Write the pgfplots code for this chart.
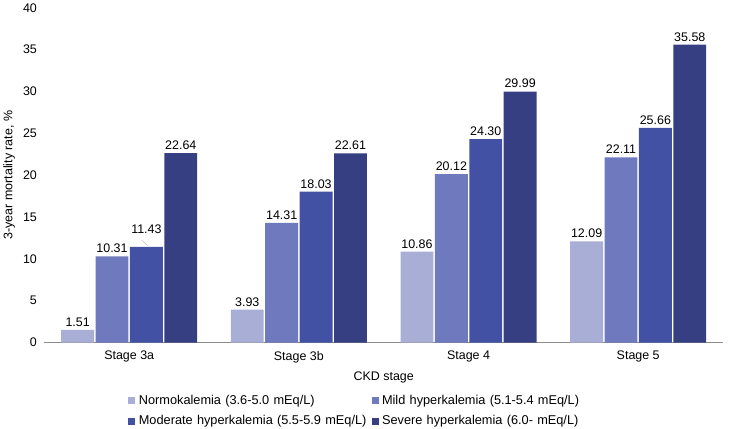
\documentclass[border=0pt]{standalone}
\usepackage{pgfplots}
\pgfplotsset{compat=1.18}
\usepackage{fontspec}
\setmainfont{Liberation Sans}
\definecolor{normo}{HTML}{A9AED6}
\definecolor{mild}{HTML}{6F79BE}
\definecolor{moder}{HTML}{4351A4}
\definecolor{severe}{HTML}{353F82}
\definecolor{axisgray}{HTML}{8C8C8C}

\begin{document}
\begin{tikzpicture}[font=\fontsize{12.5}{15}\selectfont]
  \begin{axis}[
    at={(0,0)}, anchor=south west,
    scale only axis, width=681pt, height=336pt,
    ybar=1.5pt, bar width=33pt,
    xmin=-0.5, xmax=3.5, ymin=0, ymax=40,
    xtick={0,1,2,3},
    xticklabels={Stage 3a,Stage 3b,Stage 4,Stage 5},
    ytick={0,5,...,40},
    axis x line*=bottom, axis y line*=left,
    x axis line style={draw=axisgray, line width=1pt, -},
    y axis line style={draw=none},
    major tick length=0pt,
    /pgf/number format/assume math mode=true,
    tick label style={font=\fontsize{12.5}{15}\selectfont},
    yticklabel style={xshift=-4pt},
    xticklabel style={yshift=-5pt},
    xlabel={CKD stage},
    xlabel style={at={(axis description cs:0.5,0)}, anchor=north, yshift=-26pt},
    ylabel={3-year mortality rate, \%},
    ylabel style={at={(axis description cs:0,0.5)}, anchor=south, yshift=26pt},
    nodes near coords,
    every node near coord/.append style={font=\fontsize{12.5}{15}\selectfont,
      /pgf/number format/fixed, /pgf/number format/fixed zerofill,
      /pgf/number format/precision=2, /pgf/number format/assume math mode=true},
    every axis plot/.append style={draw=none,
      legend image code/.code={\fill[##1,draw=none] (0pt,-3.5pt) rectangle (7pt,3.5pt);}},
    legend columns=2,
    legend style={at={(axis description cs:0.459,-0.15)}, anchor=north,
      draw=none, fill=none, inner sep=0pt, font=\fontsize{12.8}{15}\selectfont,
      row sep=6pt, column sep=1.5pt, cells={anchor=west},
      nodes={inner xsep=2pt},
      /tikz/column 2/.style={nodes={text width=230pt, align=left}},
      /tikz/column 4/.style={nodes={text width=200pt, align=left}}},
  ]
    \addplot[fill=normo] coordinates {(0,1.51) (1,3.93) (2,10.86) (3,12.09)};
    \addlegendentry{Normokalemia (3.6-5.0 mEq/L)}
    \addplot[fill=mild] coordinates {(0,10.31) (1,14.31) (2,20.12) (3,22.11)};
    \addlegendentry{Mild hyperkalemia (5.1-5.4 mEq/L)}
    \addplot[fill=moder, coordinate style/.condition={\coordindex==0}{yshift=10pt}]
      coordinates {(0,11.43) (1,18.03) (2,24.30) (3,25.66)};
    \addlegendentry{Moderate hyperkalemia (5.5-5.9 mEq/L)}
    \addplot[fill=severe] coordinates {(0,22.64) (1,22.61) (2,29.99) (3,35.58)};
    \addlegendentry{Severe hyperkalemia (6.0- mEq/L)}
    \draw[axisgray, very thin] ([xshift=18.5pt,yshift=1pt]axis cs:0,11.43) -- ++(-6pt,6pt);
  \end{axis}
  \path[use as bounding box] (-42pt,-86pt) rectangle (693pt,343pt);
\end{tikzpicture}
\end{document}
